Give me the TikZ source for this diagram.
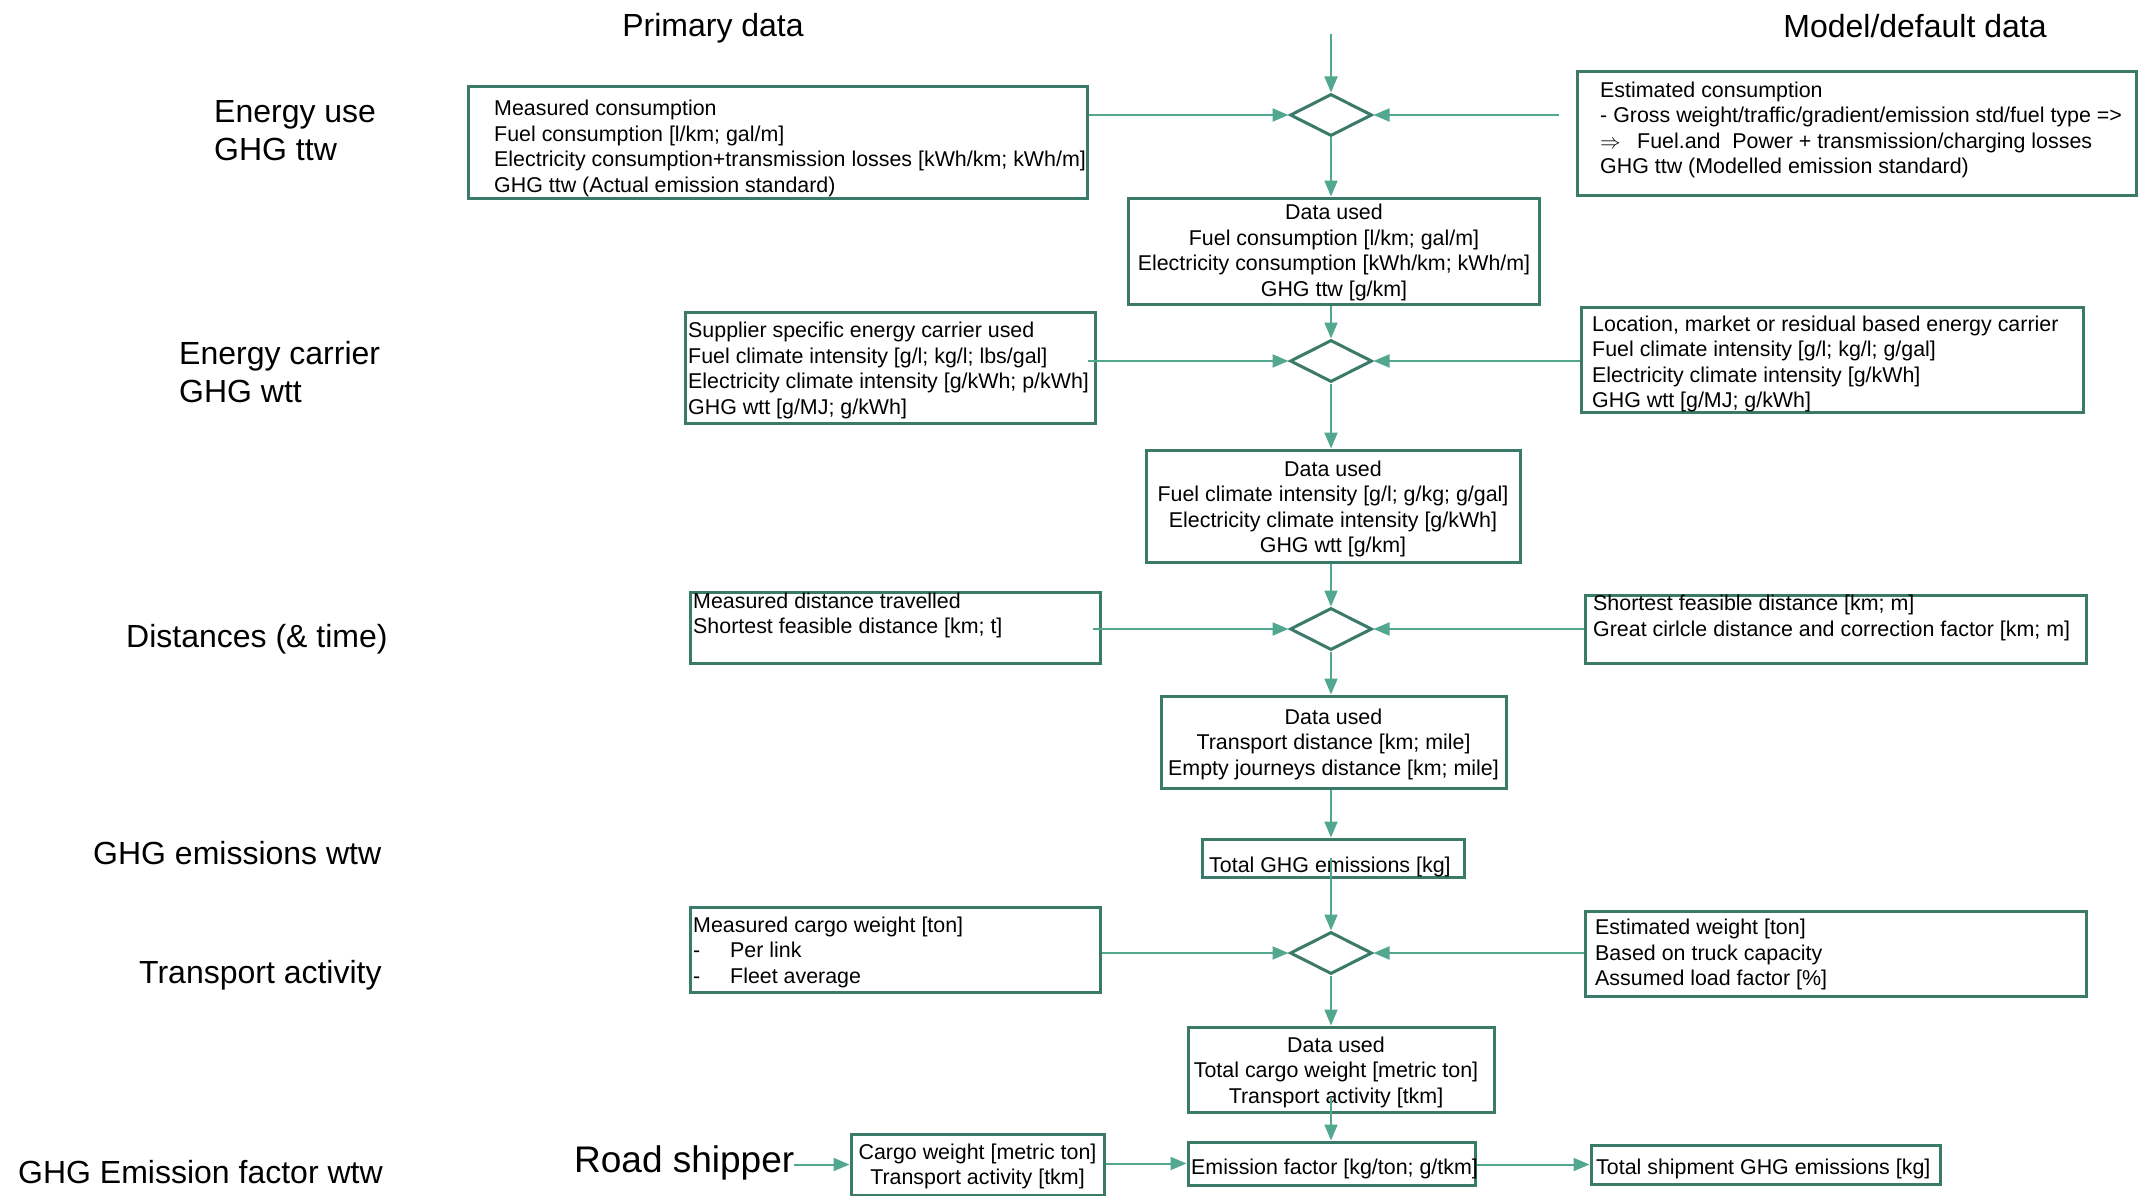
\documentclass[tikz,border=0pt]{standalone}
\usepackage{fontspec}
\setmainfont{Liberation Sans}
\usetikzlibrary{shapes.geometric,arrows.meta}
\definecolor{boxc}{HTML}{3A7A68}
\definecolor{linec}{HTML}{52A88F}
\newcommand\bxf{\fontsize{21.4}{25.5}\selectfont}
\newcommand\lbf{\fontsize{32}{38}\selectfont}
\begin{document}
\begin{tikzpicture}[x=1pt,y=-1pt,
  bx/.style={draw=boxc,line width=3pt,inner sep=0pt,rectangle},
  dia/.style={draw=boxc,line width=3pt,shape=diamond,inner sep=0pt,minimum width=82pt,minimum height=42pt},
  tl/.style={inner sep=0pt,align=left,font=\bxf,anchor=west,yshift=-2.5pt},
  tc/.style={inner sep=0pt,align=center,font=\bxf,yshift=-2.5pt},
  lab/.style={inner sep=0pt,align=left,font=\lbf,anchor=west,yshift=-2.5pt},
  conn/.style={draw=linec,line width=2pt,-{Triangle[length=16pt,width=13pt]}}]
\fill[white] (0,0) rectangle (2139,1196);
\useasboundingbox (0,0) rectangle (2139,1196);

% headers
\node[inner sep=0pt,font=\lbf,yshift=-3pt] (hp) at (713,25) {Primary data};
\node[inner sep=0pt,font=\lbf,yshift=-1pt] (hm) at (1915,25) {Model/default data};

% row labels
\node[lab] (lab1) at (214,128) {Energy use\\GHG ttw};
\node[lab] (lab2) at (179,370) {Energy carrier\\GHG wtt};
\node[lab] (lab3) at (126,637) {Distances (\& time)};
\node[lab] (lab4) at (93,851) {GHG emissions wtw};
\node[lab] (lab5) at (139,973) {Transport activity};
\node[lab] (lab6) at (18,1170) {GHG Emission factor wtw};
\node[inner sep=0pt,anchor=west,font=\fontsize{37}{44}\selectfont,yshift=-3pt] (rs) at (574,1160) {Road shipper};

\coordinate (top) at (1331,34);

% row 1
\node[bx,minimum width=619pt,minimum height=111pt] (b1l) at (777.5,142.5) {};
\node[tl] (t1l) at (494,146) {Measured consumption\\Fuel consumption [l/km; gal/m]\\Electricity consumption+transmission losses [kWh/km; kWh/m]\\GHG ttw (Actual emission standard)};
\node[dia] (d1) at (1331,115) {};
\node[bx,minimum width=559pt,minimum height=123pt] (b1r) at (1856.5,133.5) {};
\node[tl] (t1r) at (1600,127.5) {Estimated consumption\\- Gross weight/traffic/gradient/emission std/fuel type =>\\\makebox[37pt][l]{$\Rightarrow$}Fuel.and\ \ Power + transmission/charging losses\\GHG ttw (Modelled emission standard)};
\node[bx,minimum width=411pt,minimum height=106pt] (u1) at (1333.5,251) {};
\node[tc] (tu1) at (1334,250) {Data used\\Fuel consumption [l/km; gal/m]\\Electricity consumption [kWh/km; kWh/m]\\GHG ttw [g/km]};

% row 2
\node[bx,minimum width=410pt,minimum height=111pt] (b2l) at (890,367.5) {};
\node[tl] (t2l) at (688,368) {Supplier specific energy carrier used\\Fuel climate intensity [g/l; kg/l; lbs/gal]\\Electricity climate intensity [g/kWh; p/kWh]\\GHG wtt [g/MJ; g/kWh]};
\node[dia] (d2) at (1331,361) {};
\node[bx,minimum width=502pt,minimum height=105pt] (b2r) at (1832,359.5) {};
\node[tl] (t2r) at (1592,361.5) {Location, market or residual based energy carrier\\Fuel climate intensity [g/l; kg/l; g/gal]\\Electricity climate intensity [g/kWh]\\GHG wtt [g/MJ; g/kWh]};
\node[bx,minimum width=374pt,minimum height=112pt] (u2) at (1333,506) {};
\node[tc] (tu2) at (1333,506.5) {Data used\\Fuel climate intensity [g/l; g/kg; g/gal]\\Electricity climate intensity [g/kWh]\\GHG wtt [g/km]};

% row 3
\node[bx,minimum width=410pt,minimum height=71pt] (b3l) at (895,627.5) {};
\node[tl] (t3l) at (693,613) {Measured distance travelled\\Shortest feasible distance [km; t]};
\node[dia] (d3) at (1331,629) {};
\node[bx,minimum width=501pt,minimum height=68pt] (b3r) at (1835.5,629) {};
\node[tl] (t3r) at (1593,615.5) {Shortest feasible distance [km; m]\\Great cirlcle distance and correction factor [km; m]};
\node[bx,minimum width=345pt,minimum height=92pt] (u3) at (1333.5,742) {};
\node[tc] (tu3) at (1333.5,741.5) {Data used\\Transport distance [km; mile]\\Empty journeys distance [km; mile]};

% row 4
\node[bx,minimum width=262pt,minimum height=38pt] (tot) at (1333,858) {};
\node[tl] (ttot) at (1209,864) {Total GHG emissions [kg]};
\node[bx,minimum width=410pt,minimum height=85pt] (b4l) at (895,949.5) {};
\node[tl] (t4l) at (693,949.5) {Measured cargo weight [ton]\\\makebox[37pt][l]{-}Per link\\\makebox[37pt][l]{-}Fleet average};
\node[dia] (d4) at (1331,953) {};
\node[bx,minimum width=501pt,minimum height=85pt] (b4r) at (1835.5,953.5) {};
\node[tl] (t4r) at (1595,952) {Estimated weight [ton]\\Based on truck capacity\\Assumed load factor [\%]};
\node[bx,minimum width=306pt,minimum height=85pt] (u4) at (1341,1069.5) {};
\node[tc] (tu4) at (1336,1069.5) {Data used\\Total cargo weight [metric ton]\\Transport activity [tkm]};

% row 5
\node[bx,minimum width=253pt,minimum height=61pt] (cg) at (977.5,1164.5) {};
\node[tc] (tcg) at (977.5,1164) {Cargo weight [metric ton]\\Transport activity [tkm]};
\node[bx,minimum width=287pt,minimum height=43pt] (ef) at (1331.5,1163.5) {};
\node[tl] (tef) at (1191,1166) {Emission factor [kg/ton; g/tkm]};
\node[bx,minimum width=349pt,minimum height=39pt] (ts) at (1765.5,1164.5) {};
\node[tl] (tts) at (1596,1166) {Total shipment GHG emissions [kg]};

% connectors
\draw[conn] (top) -- (d1.north);
\draw[conn] (b1l.east |- d1.west) -- (d1.west);
\draw[conn,shorten <=17pt] (b1r.west |- d1.east) -- (d1.east);
\draw[conn] (d1.south) -- (d1.south |- u1.north);
\draw[conn] (u1.south -| d2.north) -- (d2.north);
\draw[conn,shorten <=-9pt] (b2l.east |- d2.west) -- (d2.west);
\draw[conn] (b2r.west |- d2.east) -- (d2.east);
\draw[conn] (d2.south) -- (d2.south |- u2.north);
\draw[conn] (u2.south -| d3.north) -- (d3.north);
\draw[conn,shorten <=-9pt] (b3l.east |- d3.west) -- (d3.west);
\draw[conn] (b3r.west |- d3.east) -- (d3.east);
\draw[conn] (d3.south) -- (d3.south |- u3.north);
\draw[conn] (u3.south -| d3.south) -- (tot.north -| d3.south);
\draw[conn] (tot.center -| d4.north) -- (d4.north);
\draw[conn] (b4l.east |- d4.west) -- (d4.west);
\draw[conn] (b4r.west |- d4.east) -- (d4.east);
\draw[conn] (d4.south) -- (d4.south |- u4.north);
\draw[conn] ([yshift=17pt]u4.south -| d4.south) -- (ef.north -| d4.south);
\draw[conn] (rs.east |- cg.west) -- (cg.west);
\draw[conn] (cg.east |- ef.west) -- (ef.west);
\draw[conn] (ef.east |- ts.west) -- (ts.west);
\end{tikzpicture}
\end{document}
